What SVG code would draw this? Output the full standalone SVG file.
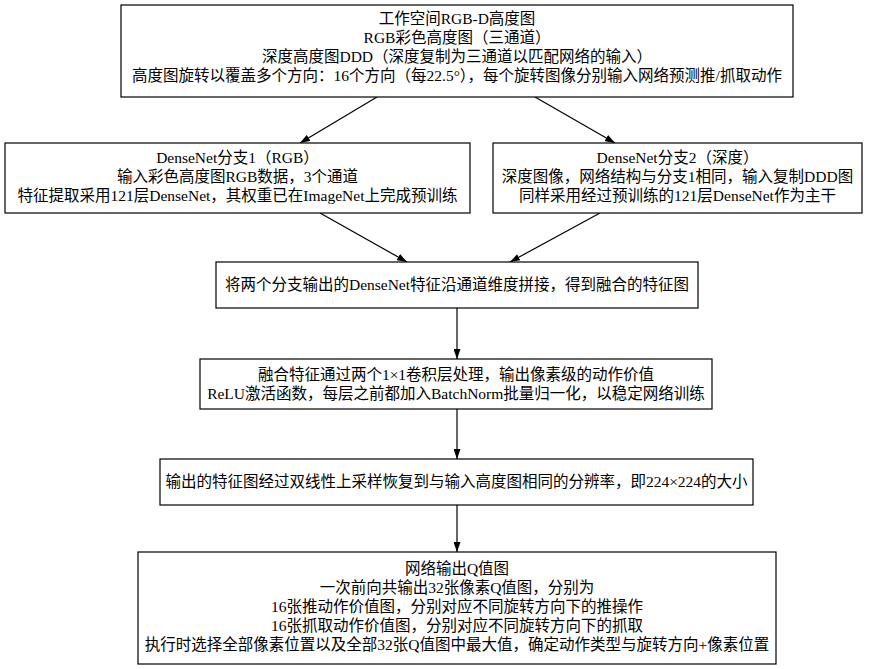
<svg xmlns="http://www.w3.org/2000/svg" width="869" height="669" viewBox="0 0 869 669">
<style>
.box{fill:#fff;stroke:#000;stroke-width:1.2}
.t{font-family:"Liberation Serif","Noto Sans CJK SC",serif;font-size:15.5px;fill:#000;text-anchor:middle}
.e{fill:none;stroke:#000;stroke-width:1.2}
</style>
<defs>
<marker id="ah" viewBox="0 0 10 7" refX="10" refY="3.5" markerWidth="10" markerHeight="7" markerUnits="userSpaceOnUse" orient="auto">
<path d="M0,0 L10,3.5 L0,7 Z" fill="#000"/>
</marker>
</defs>
<rect width="869" height="669" fill="#fff"/>
<g id="edges">
<path class="e" d="M377,97 L300,143" marker-end="url(#ah)"/>
<path class="e" d="M535,97 L615,143" marker-end="url(#ah)"/>
<path class="e" d="M320,213 L407,262" marker-end="url(#ah)"/>
<path class="e" d="M600,213 L510,262" marker-end="url(#ah)"/>
<path class="e" d="M457,308 L457,359" marker-end="url(#ah)"/>
<path class="e" d="M457,409 L457,459" marker-end="url(#ah)"/>
<path class="e" d="M457,505 L457,552" marker-end="url(#ah)"/>
</g>
<g id="input">
<rect class="box" x="121" y="5" width="672" height="92"/>
<text class="t" x="457" y="23.7">工作空间RGB-D高度图</text>
<text class="t" x="457" y="42.9">RGB彩色高度图（三通道）</text>
<text class="t" x="457" y="62.1">深度高度图DDD（深度复制为三通道以匹配网络的输入）</text>
<text class="t" x="457" y="81.3">高度图旋转以覆盖多个方向：16个方向（每22.5°），每个旋转图像分别输入网络预测推/抓取动作</text>
</g>
<g id="densenet_rgb">
<rect class="box" x="5" y="143" width="465" height="70"/>
<text class="t" x="237.5" y="162.8">DenseNet分支1（RGB）</text>
<text class="t" x="237.5" y="182">输入彩色高度图RGB数据，3个通道</text>
<text class="t" x="237.5" y="201.2">特征提取采用121层DenseNet，其权重已在ImageNet上完成预训练</text>
</g>
<g id="densenet_depth">
<rect class="box" x="493" y="143" width="369" height="70"/>
<text class="t" x="677.5" y="162.8">DenseNet分支2（深度）</text>
<text class="t" x="677.5" y="182">深度图像，网络结构与分支1相同，输入复制DDD图</text>
<text class="t" x="677.5" y="201.2">同样采用经过预训练的121层DenseNet作为主干</text>
</g>
<g id="concat">
<rect class="box" x="216" y="262" width="482" height="46"/>
<text class="t" x="457" y="290">将两个分支输出的DenseNet特征沿通道维度拼接，得到融合的特征图</text>
</g>
<g id="conv">
<rect class="box" x="200" y="359" width="512" height="50"/>
<text class="t" x="456" y="379.5">融合特征通过两个1×1卷积层处理，输出像素级的动作价值</text>
<text class="t" x="456" y="398.7">ReLU激活函数，每层之前都加入BatchNorm批量归一化，以稳定网络训练</text>
</g>
<g id="upsample">
<rect class="box" x="160" y="459" width="593" height="46"/>
<text class="t" x="456.5" y="487">输出的特征图经过双线性上采样恢复到与输入高度图相同的分辨率，即224×224的大小</text>
</g>
<g id="qmaps">
<rect class="box" x="138" y="552" width="638" height="112"/>
<text class="t" x="457" y="573.6">网络输出Q值图</text>
<text class="t" x="457" y="592.8">一次前向共输出32张像素Q值图，分别为</text>
<text class="t" x="457" y="612">16张推动作价值图，分别对应不同旋转方向下的推操作</text>
<text class="t" x="457" y="631.2">16张抓取动作价值图，分别对应不同旋转方向下的抓取</text>
<text class="t" x="457" y="650.4">执行时选择全部像素位置以及全部32张Q值图中最大值，确定动作类型与旋转方向+像素位置</text>
</g>
</svg>
